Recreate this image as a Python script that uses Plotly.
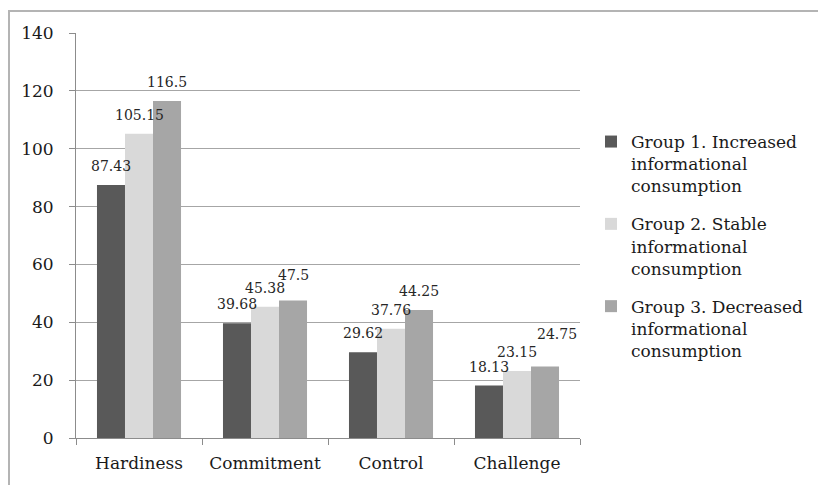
import plotly.graph_objects as go

categories = ["Hardiness", "Commitment", "Control", "Challenge"]
group1 = [87.43, 39.68, 29.62, 18.13]
group2 = [105.15, 45.38, 37.76, 23.15]
group3 = [116.5, 47.5, 44.25, 24.75]
series_names = [
    "Group 1. Increased<br>informational<br>consumption",
    "Group 2. Stable<br>informational<br>consumption",
    "Group 3. Decreased<br>informational<br>consumption",
]
label_texts = [
    ["87.43", "39.68", "29.62", "18.13"],
    ["105.15", "45.38", "37.76", "23.15"],
    ["116.5", "47.5", "44.25", "24.75"],
]
y_ticks = [0, 20, 40, 60, 80, 100, 120, 140]

colors = ["#595959", "#d9d9d9", "#a6a6a6"]
FONT = "DejaVu Serif"
W, H = 818, 485
L, R, T, B = 76, 238, 33, 47

fig = go.Figure()
for i, (name, vals, col) in enumerate(zip(series_names, [group1, group2, group3], colors)):
    fig.add_trace(go.Bar(x=categories, y=vals, name=name, legendgroup=f"g{i}",
                         marker=dict(color=col, line=dict(width=0))))

# value labels above each bar; a few are nudged so neighbours don't collide
offsets = [-28, 0, 28]
nudge = {(2, 1): (0, 7), (2, 3): (12, 13)}
annotations = []
for si, (vals, texts, dx) in enumerate(zip([group1, group2, group3], label_texts, offsets)):
    for ci, (c, v, t) in enumerate(zip(categories, vals, texts)):
        ex, ey = nudge.get((si, ci), (0, 0))
        annotations.append(dict(x=c, y=v, text=t, showarrow=False,
                                xshift=dx + ex, yshift=9 + ey, yanchor="bottom",
                                font=dict(family=FONT, size=14, color="#262626")))

pw = W - L - R
ph = H - T - B
def px_x(p):
    return (p - L) / pw
def px_y(p):
    return (H - B - p) / ph

# chart-area frame: only its top and left edges fall inside the canvas
shapes = [
    dict(type="rect", xref="paper", yref="paper", x0=px_x(9), x1=px_x(W + 30),
         y0=px_y(H + 30), y1=px_y(11), line=dict(color="#b4b4b4", width=2),
         fillcolor="rgba(0,0,0,0)", layer="below"),
]

fig.update_layout(
    width=W, height=H,
    margin=dict(l=L, r=R, t=T, b=B, autoexpand=False),
    paper_bgcolor="white", plot_bgcolor="white",
    barmode="group", bargap=0.333, bargroupgap=0,
    font=dict(family=FONT, size=17, color="#1a1a1a"),
    showlegend=True,
    legend=dict(x=px_x(591), y=px_y(124), xanchor="left", yanchor="top",
                font=dict(family=FONT, size=17, color="#1a1a1a"),
                itemwidth=30, valign="top", traceorder="grouped",
                tracegroupgap=13, bgcolor="rgba(0,0,0,0)"),
    annotations=annotations,
    shapes=shapes,
)
fig.update_xaxes(showline=True, linecolor="#8c8c8c", linewidth=1,
                 ticks="outside", tickson="boundaries", ticklen=6,
                 tickcolor="#8c8c8c", showgrid=False, ticklabelstandoff=10,
                 tickfont=dict(family=FONT, size=17, color="#1a1a1a"))
fig.update_yaxes(range=[0, 140], tickvals=y_ticks, showline=True,
                 linecolor="#8c8c8c", linewidth=1, ticks="outside", ticklen=6,
                 tickcolor="#8c8c8c", showgrid=True, gridcolor="#a6a6a6",
                 gridwidth=1, zeroline=False, ticklabelstandoff=12,
                 tickfont=dict(family=FONT, size=17, color="#1a1a1a"))

fig.write_html("out.html", config={"displayModeBar": False})
